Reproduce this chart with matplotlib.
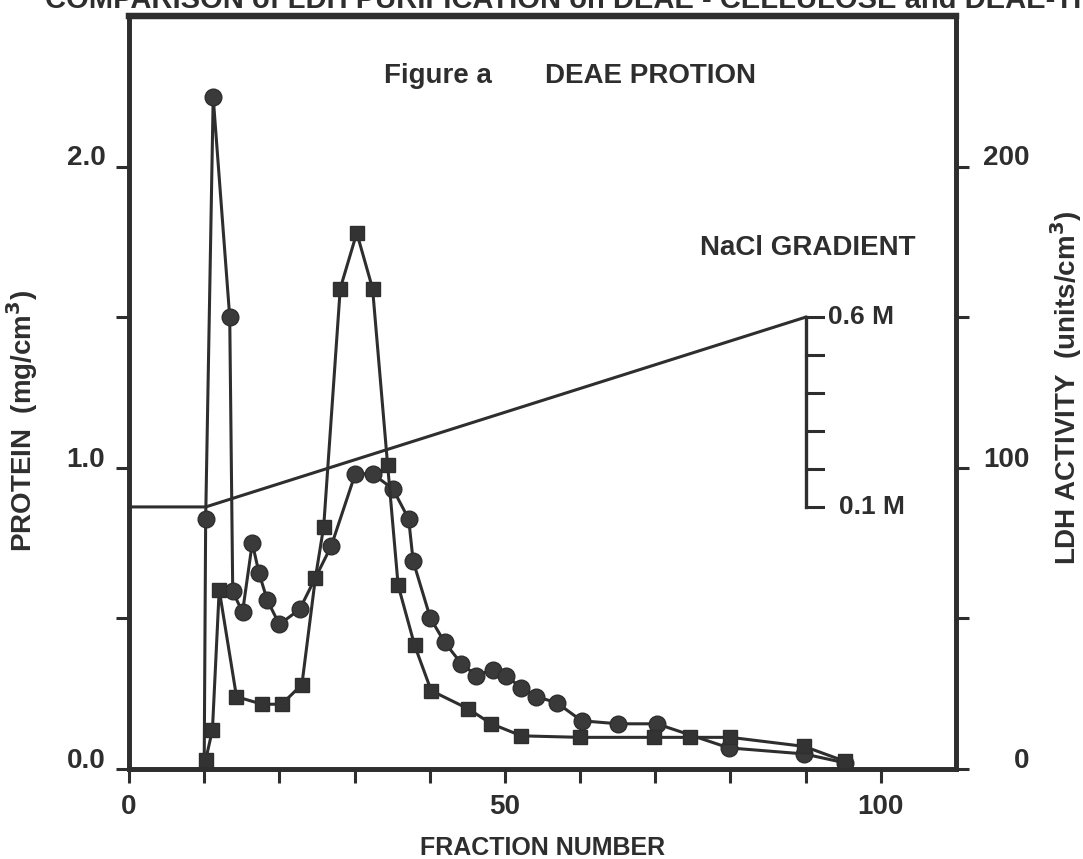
import matplotlib
matplotlib.use("Agg")
import matplotlib.pyplot as plt
import matplotlib.transforms as mtransforms


# -----------------------------
# Elution data (DEAE column)
# -----------------------------
# protein, mg/cm3 (circles)
prot_frac = [10.0, 10.2, 11.2, 13.4, 13.8, 15.1, 16.4, 17.3, 18.4, 20.0, 22.7,
             26.9, 30.1, 32.4, 35.1, 37.2, 37.8, 40.1, 42.0, 44.2, 46.2, 48.4,
             50.2, 52.1, 54.2, 56.9, 60.2, 65.1, 70.2, 79.8, 89.8, 95.3]
prot_val = [0.00, 0.83, 2.23, 1.50, 0.59, 0.52, 0.75, 0.65, 0.56, 0.48, 0.53,
            0.74, 0.98, 0.98, 0.93, 0.83, 0.69, 0.50, 0.42, 0.35, 0.31, 0.33,
            0.31, 0.27, 0.24, 0.22, 0.16, 0.15, 0.15, 0.07, 0.05, 0.02]

# LDH activity, units/cm3 (squares)
ldh_frac = [10.2, 11.1, 12.0, 14.3, 17.7, 20.3, 23.0, 24.8, 25.9, 28.1, 30.3,
            32.4, 34.4, 35.8, 38.0, 40.2, 45.1, 48.2, 52.2, 60.0, 69.8, 74.6,
            80.0, 89.8, 95.3]
ldh_val = [3, 13, 59.5, 24, 21.5, 21.5, 28, 63.5, 80.5, 159.5, 178,
           159.5, 101, 61, 41, 26, 20, 15, 11, 10.5, 10.5, 10.5,
           10.5, 7.5, 2.5]

# NaCl gradient (M)
grad_frac = [0, 10.2, 90]
grad_molar = [0.1, 0.1, 0.6]
scale_molar = [0.1, 0.2, 0.3, 0.4, 0.5, 0.6]

x_ticks = list(range(0, 101, 10))
x_labels = {0: "0", 50: "50", 100: "100"}
prot_ticks = [0.0, 0.5, 1.0, 1.5, 2.0]
prot_labels = {0.0: "0.0", 1.0: "1.0", 2.0: "2.0"}
ldh_ticks = [0, 50, 100, 150, 200]
ldh_labels = {0: "0", 100: "100", 200: "200"}

INK = "#2e2e2e"
plt.rcParams["font.family"] = ["Liberation Sans", "DejaVu Sans"]
plt.rcParams["font.weight"] = "bold"


def molar_to_axis(m):
    # gradient drawn against the protein scale: 0.1 M -> 0.87, 0.6 M -> 1.50
    return 0.87 + (m - 0.1) * 1.26


fig = plt.figure(figsize=(10.83, 8.59), dpi=100)
ax = fig.add_axes([0.1191, 0.1048, 0.7636, 0.8766])
ax2 = ax.twinx()

ax.set_xlim(0, 110)
ax.set_ylim(0, 2.5)
ax2.set_ylim(0, 250)

# gradient line and its molarity scale
ax.plot(grad_frac, [molar_to_axis(m) for m in grad_molar], color=INK, lw=2.2)
bar_y = [molar_to_axis(m) for m in scale_molar]
ax.plot([90, 90], [bar_y[0], bar_y[-1]], color=INK, lw=2.4)
for y in bar_y:
    ax.plot([90, 92.3], [y, y], color=INK, lw=2.2)
ax.text(93.0, bar_y[-1], "0.6 M", fontsize=19, color=INK, va="center")
ax.text(94.5, bar_y[0], "0.1 M", fontsize=19, color=INK, va="center")
ax.text(76, 1.73, "NaCl GRADIENT", fontsize=20, color=INK, va="center")

# elution profiles
ax.plot(prot_frac, prot_val, color=INK, lw=2.2, marker="o", ms=12,
        mfc="#3a3a3a", mec=INK, markevery=list(range(1, len(prot_frac))),
        zorder=3)
ax2.plot(ldh_frac, ldh_val, color=INK, lw=2.2, marker="s", ms=10,
         mfc="#333333", mec=INK, zorder=4)

# axes frame
for a in (ax, ax2):
    for side, sp in a.spines.items():
        sp.set_color(INK)
        sp.set_linewidth(3.4)
    a.spines["top"].set_linewidth(4.5)

ax.set_xticks(x_ticks)
ax.set_xticklabels([x_labels.get(t, "") for t in x_ticks])
ax.set_yticks(prot_ticks)
ax.set_yticklabels([prot_labels.get(t, "") for t in prot_ticks])
ax2.set_yticks(ldh_ticks)
ax2.set_yticklabels([ldh_labels.get(t, "") for t in ldh_ticks], ha="right")

ax.tick_params(axis="x", direction="out", length=10, width=2.2, color=INK,
               labelsize=20, labelcolor=INK, pad=8)
ax.tick_params(axis="y", direction="out", length=9.5, width=2.2, color=INK,
               labelsize=20, labelcolor=INK, pad=7.5)
ax2.tick_params(axis="y", direction="out", length=9, width=2.2, color=INK,
                labelsize=20, labelcolor=INK, pad=44)

# tick labels sit a little above their ticks
lift = mtransforms.ScaledTranslation(0, 8 / 72, fig.dpi_scale_trans)
for lbl in ax.get_yticklabels() + ax2.get_yticklabels():
    lbl.set_transform(lbl.get_transform() + lift)

ax.set_xlabel("FRACTION NUMBER", fontsize=18, color=INK, fontweight="bold")
ax.xaxis.set_label_coords(0.5, -0.089)
ax.set_ylabel("PROTEIN  (mg/cm$^\\mathbf{3}$)", fontsize=20, color=INK,
              fontweight="bold")
ax.yaxis.set_label_coords(-0.107, 0.462)
ax2.set_ylabel("LDH ACTIVITY  (units/cm$^\\mathbf{3}$)", fontsize=20,
               color=INK, fontweight="bold")
ax2.yaxis.set_label_coords(1.111, 0.506)

ax.text(0.308, 0.911, "Figure a", transform=ax.transAxes, fontsize=20,
        color=INK, va="baseline")
ax.text(0.503, 0.911, "DEAE PROTION", transform=ax.transAxes, fontsize=20,
        color=INK, va="baseline")

fig.text(0.042, 1 - 8 / 859,
         "COMPARISON of LDH PURIFICATION on DEAE - CELLULOSE and DEAE-TRISACRYL",
         fontsize=21, color=INK, va="baseline")

fig.savefig("out.png", dpi=100, facecolor="white")
